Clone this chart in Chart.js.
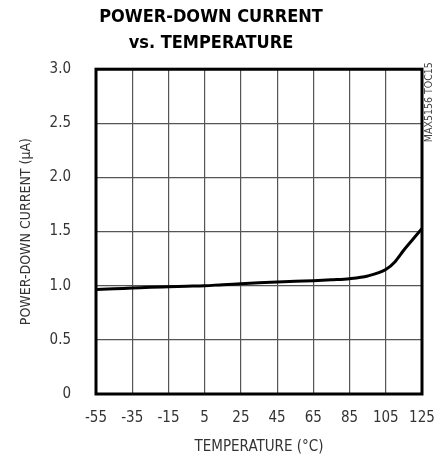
<!DOCTYPE html>
<html>
<head>
<meta charset="utf-8">
<script src="https://cdn.jsdelivr.net/npm/chart.js@4.4.0/dist/chart.umd.min.js"></script>
<style>
  html, body { margin: 0; padding: 0; background: #fff; }
  #wrap { width: 443px; height: 456px; }
</style>
</head>
<body>
<div id="wrap"><canvas id="tocChart"></canvas></div>
<script>
// temperature (C) and power-down current (uA)
var temps = [-55, -45, -35, -25, -15, -5, 5, 15, 25, 35, 45, 55, 65, 75, 85, 95, 105, 110, 115, 120, 125];
var current = [0.965, 0.972, 0.978, 0.985, 0.99, 0.995, 1.0, 1.01, 1.018, 1.027, 1.035, 1.042, 1.047, 1.055, 1.065, 1.09, 1.15, 1.22, 1.33, 1.43, 1.53];

var xTicks = [-55, -35, -15, 5, 25, 45, 65, 85, 105, 125];
var yTicks = [0, 0.5, 1.0, 1.5, 2.0, 2.5, 3.0];

var fontName = '"Liberation Sans Narrow", "DejaVu Sans Condensed", "Liberation Sans", sans-serif';
var textColor = '#333';

var points = [];
for (var i = 0; i < temps.length; i++) {
    points.push({ x: temps[i], y: current[i] });
}

// heavy frame round the plot + part number at the side
var framePlugin = {
    id: 'frame',
    afterDatasetsDraw: function (chart) {
        var a = chart.chartArea, ctx = chart.ctx;
        ctx.save();
        ctx.strokeStyle = '#000';
        ctx.lineWidth = 3;
        ctx.strokeRect(a.left, a.top, a.right - a.left, a.bottom - a.top);
        ctx.translate(a.right + 7, a.top - 7);
        ctx.rotate(-Math.PI / 2);
        ctx.fillStyle = '#444';
        ctx.font = '10.5px ' + fontName;
        ctx.textAlign = 'right';
        ctx.textBaseline = 'middle';
        ctx.fillText('MAX5156 TOC15', 0, 0);
        ctx.restore();
    }
};

var ctx = document.getElementById('tocChart');
var myChart = new Chart(ctx, {
    type: 'line',
    data: {
        datasets: [{
            label: 'Power-down current',
            data: points,
            borderColor: '#000',
            borderWidth: 3,
            pointRadius: 0,
            fill: false,
            cubicInterpolationMode: 'monotone'
        }]
    },
    options: {
        responsive: true,
        maintainAspectRatio: false,
        animation: false,
        layout: { padding: { left: 0, right: 21, top: 0, bottom: 0 } },
        plugins: {
            legend: { display: false },
            tooltip: { enabled: false },
            title: {
                display: true,
                text: ['POWER-DOWN CURRENT', 'vs. TEMPERATURE'],
                color: '#000',
                font: { family: fontName, size: 18, weight: 'bold', lineHeight: 1.45 },
                padding: { top: 4, bottom: 13 }
            }
        },
        scales: {
            x: {
                type: 'linear',
                min: -55,
                max: 125,
                afterBuildTicks: function (s) {
                    s.ticks = xTicks.map(function (v) { return { value: v }; });
                },
                afterFit: function (s) {
                    s.height = 62;
                    s.paddingLeft = 0;
                    s.paddingRight = 0;
                },
                grid: { color: '#555', lineWidth: 1.2, drawTicks: false },
                border: { display: false },
                ticks: {
                    color: textColor,
                    padding: 15,
                    maxRotation: 0,
                    autoSkip: false,
                    font: { family: fontName, size: 15 }
                },
                title: {
                    display: true,
                    text: 'TEMPERATURE (°C)',
                    color: textColor,
                    font: { family: fontName, size: 15 },
                    padding: { top: 4, bottom: 0 }
                }
            },
            y: {
                min: 0,
                max: 3,
                afterBuildTicks: function (s) {
                    s.ticks = yTicks.map(function (v) { return { value: v }; });
                },
                afterFit: function (s) { s.width = 96; },
                grid: { color: '#555', lineWidth: 1.2, drawTicks: false },
                border: { display: false },
                ticks: {
                    color: textColor,
                    padding: 25,
                    font: { family: fontName, size: 15 },
                    callback: function (v) { return v === 0 ? '0' : v.toFixed(1); }
                },
                title: {
                    display: true,
                    text: 'POWER-DOWN CURRENT (µA)',
                    color: textColor,
                    font: { family: fontName, size: 14 },
                    padding: { top: 18, bottom: 0 }
                }
            }
        }
    },
    plugins: [framePlugin]
});
</script>
</body>
</html>
